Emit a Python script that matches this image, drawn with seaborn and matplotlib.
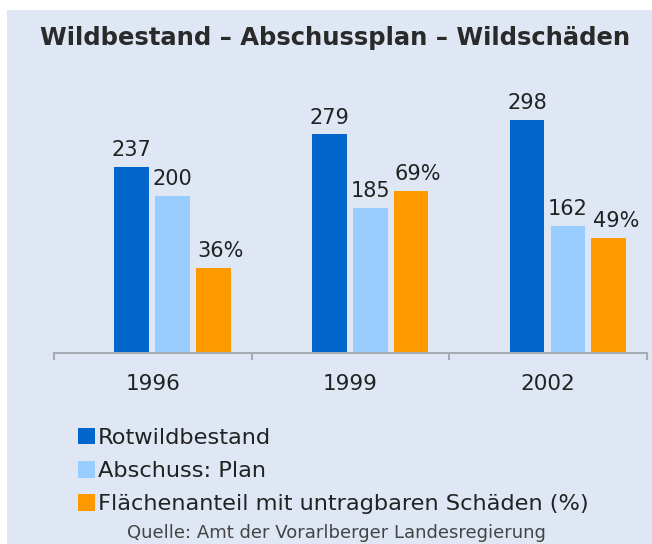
import matplotlib
matplotlib.use("Agg")
import matplotlib.pyplot as plt
from matplotlib.patches import Patch, Rectangle
import pandas as pd
import seaborn as sns

# data
years = ["1996", "1999", "2002"]
rotwild = [237, 279, 298]
abschuss_plan = [200, 185, 162]
schaden_pct = [36, 69, 49]
series = ["Rotwildbestand", "Abschuss: Plan",
          "Flächenanteil mit untragbaren Schäden (%)"]
colors = ["#0066cc", "#99ccff", "#ff9900"]
pct_scale = 3  # percent bars are drawn on a 3x scale in the original

bg = "#dee7f3"
text_col = "#222222"

df = pd.DataFrame({
    "Jahr": years * 3,
    "Serie": [series[0]] * 3 + [series[1]] * 3 + [series[2]] * 3,
    "Wert": rotwild + abschuss_plan + [p * pct_scale for p in schaden_pct],
})
labels = {
    series[0]: [str(v) for v in rotwild],
    series[1]: [str(v) for v in abschuss_plan],
    series[2]: [f"{v}%" for v in schaden_pct],
}

sns.set_style("white")
plt.rcParams["font.family"] = ["DejaVu Sans"]

fig = plt.figure(figsize=(6.52, 5.44), dpi=100, facecolor="white")
fig.patches.append(Rectangle((7 / 652, 0), 1, 1 - 10 / 544, transform=fig.transFigure,
                             facecolor=bg, edgecolor="none", zorder=-10))

ax = fig.add_axes([54 / 652, 1 - 353 / 544, 593 / 652, 258.5 / 544])
ax.set_facecolor("none")

sns.barplot(data=df, x="Jahr", y="Wert", hue="Serie", order=years, hue_order=series,
            palette=colors, saturation=1, width=0.62, gap=0.15, legend=False,
            linewidth=0, edgecolor="none", ax=ax)

# value labels
for cont, s in zip(ax.containers, series):
    dx = 5 if s == series[2] else 0
    for bar, lab in zip(cont, labels[s]):
        ax.annotate(lab, (bar.get_x() + bar.get_width() / 2, bar.get_height()),
                    xytext=(dx, 5), textcoords="offset points",
                    ha="center", va="bottom", fontsize=15, color=text_col)

ax.set_ylim(0, 330)
ax.set_xlim(-0.6, 2.4)
ax.set_xlabel("")
ax.set_ylabel("")
ax.set_yticks([])
ax.set_xticks([-0.6, 0.4, 1.4, 2.4])
ax.set_xticklabels([])
ax.set_xticks([i - 0.1 for i in range(len(years))], minor=True)
ax.set_xticklabels(years, minor=True)
ax.tick_params(axis="x", which="major", bottom=True, length=5, width=1.5,
               color="#a9abb3", direction="out")
ax.tick_params(axis="x", which="minor", bottom=True, length=0, pad=15,
               labelsize=15.5, labelcolor=text_col)
for side in ["left", "right", "top"]:
    ax.spines[side].set_visible(False)
ax.spines["bottom"].set_color("#a9abb3")
ax.spines["bottom"].set_linewidth(1.5)

fig.text(335 / 652, 1 - 38 / 544, "Wildbestand – Abschussplan – Wildschäden",
         ha="center", va="center", fontsize=17.5, fontweight="bold", color="#2a2a2a")

handles = [Patch(facecolor=c, edgecolor="none") for c in colors]
fig.legend(handles, series, loc="upper left", bbox_to_anchor=(78 / 652, 1 - 428 / 544),
           frameon=False, fontsize=16.2, handlelength=0.75, handleheight=0.75,
           handletextpad=0.15, labelspacing=0.58, borderaxespad=0, borderpad=0,
           labelcolor=text_col)

fig.text(336 / 652, 0.003, "Quelle: Amt der Vorarlberger Landesregierung",
         ha="center", va="bottom", fontsize=13, color="#444444")

fig.savefig("out.png", dpi=100, facecolor="white")
